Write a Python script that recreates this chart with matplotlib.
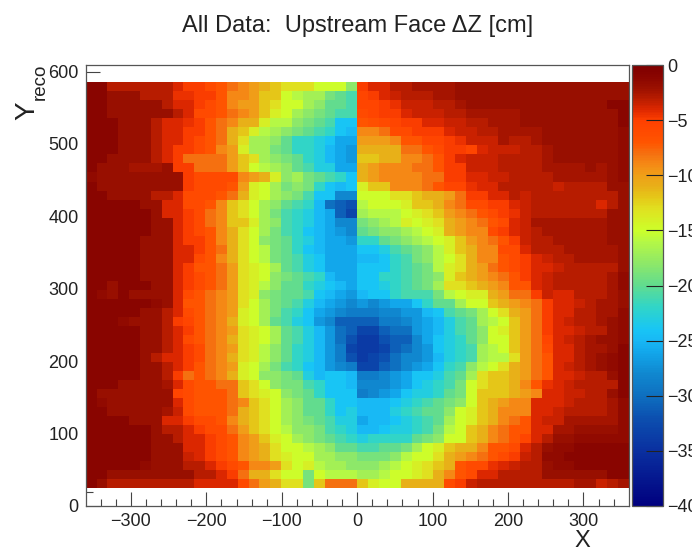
import numpy as np
import matplotlib
matplotlib.use("Agg")
import matplotlib.pyplot as plt
from matplotlib.colors import LinearSegmentedColormap, Normalize

# depth below zero (cm), top row first
# x < 0 half of the detector
depth_left = [
    [1,1,3,3,3,3,3,3,4,5,5,6,7,8,9,10,11,12,13,13,13,15,15,15,18],
    [1,1,2,2,2,3,3,3,4.5,4.5,5,5,7,9,9,10,12,12,15,16,17,17,19,20,21],
    [1,1,2,2,2,2,2,3,4,4,5,6,7,9,10,10,12,13,15,15,17,18,20,20,21],
    [1,1,2,2,2,2,2,2,3,4,6,6,7,8,9,10,12,14,15,17,18,19,20,21,21],
    [1,1,1,2,2,2,3,4,4,4.5,5,7,8,9,11,11,14,16,16,18,19,20,21,24,24],
    [1,1,1,2,2,2,3,4,4,5,5,7,8,11,12,14,16,17,18,19,20,21,22,24,25],
    [1,1,1,2,2,2,3,4,4,5,6,7,8,11,13,17,17,18,20,22,22,23,24,26,26],
    [1,1,1,2,2,2,3,4,5,5,6,7,9,10,14,17,17,19,20,22,22,23,25,26,27],
    [1,1,2,2,2,2,3,4,5,8,8,8,8,10,12,13,17,18,19,20,22,23,25,26,27],
    [1,2,2,2,2.5,2.5,2.5,2,5,5,8,8,8,10,12,15,16,17,18,20,21,23,23,26,26],
    [1.5,2,2,2,2,2,2,2,2,5,6,6,6,6,9,10,11,14,18,17,19,20,21,22,24],
    [1,2,2,2,2,2,2,2,2,5,6,6,6,7,10,14,15,17,19,18,19,22,24,25,24],
    [1,1,2,2,2,2,3,3,4,6,6,6,7,8,11,14,15,17,18,19,21,24,24,28,28],
    [1,1,1,1,1,2,2,4,4,6,6,7,9,12,13,15,17,18,20,21,22,25,30,31,32],
    [1,1,1,1,1,1,2,4,4,5,6,8,9,12,13,15,17,19,21,22,23,25,26,31,33],
    [1,1,1,1,1,1,2,2,4,5,6,8,9,12,12,14,17,18,21,22,23,25,26,28,28],
    [1,1,1,1,1,1,2,2,4,5,6,7,9,11,13,15,17,19,21,22,24,25,26,27,28],
    [1,1,1,1,1,2,2,2,4,5,5,7,9,11,13,15,18,19,20,22,23,25,26,26,27],
    [1,1,1,1,1,2,2,2,4,4,5,7,8,11,13,15,16,19,20,22,24,25,26,26,26],
    [1,1,1,1,1,2,2,2,4,4,6,7,9,11,13,15,16,19,20,21,23,24,26,26,26],
    [1,1,1,1,1,2,2,2,4,5,7,7,8,10,13,14,15,17,20,21,23,24,26,26,26],
    [1,1,1,1,1,2,2,2,4,5,6,7,8,10,13,14,15,18,19,20,21,22,25,26,26],
    [1,1,2,1,1,1,2,2,4,5,6,7,8,10,13,14,16,18,20,20,22,23,24,25,26],
    [1,1.5,2,1,2,2,2,2,4,6,7,8,9,10,13,14,18,19,20,20,21,24,25,26,27],
    [1,1,1,1,1,1,1.5,2,4,7,7,8,9,10,13,15,17,19,20,21,23,25,26,27,28],
    [1,1,1,1,1,2,2,3,4,6,7,8,9,10,14,15,17,19,21,22,24,26,27,28,29],
    [1,1,1,1.5,2,2,2,3,5,5.5,7,8,9,11,14,15,17,20,21,23,24,27,28,31,31],
    [1,1,1,1,1,2,2,3,4,5,7,8,9,10,13,14,15,17,20,21,23,25,27,30,31],
    [1,1,1,1,1,2,2,3,4,6,7,8,9,11,13,14,15,17,20,21,23,25,27,30,32],
    [1,1,1,1,1,2,2,3,4,5,6,8,9,10,13,14,16,18,20,22,23,25,27,29,33],
    [1,1,1,1,1,2,3,4,4,5,6,8,9,11,13,14,16,18,20,22,23,25,27,29,32],
    [1,1,1,1,1,2,2,3,4,5,7,8,9,10,14,15,17,19,21,22,24,25,27,28,29],
    [1,1,1,1,1,2,2,3,5,8,7,8,9,11,14,15,18,18,19,20,23,25,24,24,25],
    [1,1,1,2,2,2,2,2.5,4,6,7,7,8,8,12,13,15,18,19,19,21,22,24,24,25],
    [1,2,2,2,2,2,2,2,5.5,6,7,7,7,8,12,13,14,15,18,19,20,22,24,24,24],
    [1,1.5,2,2,2,2,2,2,4,6,7,7,7,8,9,12,13,15,17,18,20,20,22,24,24],
    [1,1,2,2,2,2,2,2.5,3.5,6,7,7,7,8,11,12,13,15,17,18,20,20,22,24,23],
    [1,1,1,1,2,2,2,4,4,5,6,6,7,9,11,12,13,15,17,18,19,20,21,23,23],
    [1,1,1,1,1,1,2,3,3,4,5,6,6,8,10,12,13,15,16,18,18,19,21,22,23],
    [1,1,1,1,1,1,2,2,3,4,4,5,6,7,9,10,12,14,15,17,18,19,20,21,22],
    [1,1,1,1,1,1,2,2,2,4,4,5,6,7,9,10,11,13,15,15,16,17,18,20,20],
    [1,1,1,1,1,1,2,2,2,3.5,4,5,6,7,9,10,11,13,14,15,15,17,17,18,18],
    [1,1,1,1,1,1.5,2,2,2,3,3,4,5,6,7,9,9,10,13,15,14,16,17,17,18],
    [1,1,2,2,2,2,2,2,2,2,3,3,4,5,8,11,11,13,15,15,19,15,16,16,16],
    [1,2,3,3,3,3,3,3,3,3,4,4,4,4,6,8,10,11,13,13,19,12,8,8,8],
]
# x > 0 half
depth_right = [
    [5,4,4,3,3,2.5,2.5,2.5,2.5,2,2,2,2,2,2,2,2,2,2,2,2,2,2,2,2],
    [5.5,5,4,3.5,3,3,3,2.5,2.5,2,2,2,2,2,2,2,2,2,2,2,2,2,2,2,2],
    [5.5,5.5,5,4.5,3.5,3.5,3.5,3,3,2.5,2,2,2,2,2,2,2,2,2,2,2,2,2,1,1],
    [6,5.5,5,5,4,3.5,3.5,3.5,3,3,2.5,2.5,2.5,2.5,2.5,2,2,2,2,2,2,2,2,2,1],
    [7,6.5,6,5.5,5,5,4,4,3.5,3.5,3,3,2.5,2.5,2.5,2,2,2,2,2,2,2,2,2,1],
    [9,9,8,6,6,5,5,5,4,3.5,3.5,3,3,2.5,2.5,2.5,2.5,2,2,2,2,2,2,2,1.5],
    [10,10,10,9,7,7,5.5,5.5,5,4.5,3.5,3.5,3.5,2.5,3,3,2.5,2,2,2,2,2,2,2,1.5],
    [11,11,11,11,8,8,7,6,5,5,5.5,4,3.5,3.5,3.5,3,3,2.5,2,2,2,2,2,2,1.5],
    [12,12,11,11,9,9,8,7,5,4,3.5,3.5,3.5,3,3,3,3,2.5,2,2,2,2,2,2,1.5],
    [11,10,9,9,9,8,8,7,5,5,3.5,3.5,3.5,3,3,3,3,2.5,2.5,2.5,2.5,2,2.5,2,1.5],
    [11,10,9,9,9,9,8,8,5,5,4,4,3.5,3.5,3,3,3,3,2.5,2.5,2.5,2.5,2.5,2,1.5],
    [14,12,12,9,9,9,8,7,5.5,5.5,4.5,4,4,3,3,3,3,3,3.5,3,3,3,3,2,2],
    [15,15,15,13,13,12,11,11,10,8,5,5,4,4,3,3.5,3,3,3,3,3,3,3,3,2],
    [16,15,15,15,14,12,12,11,9,8,6,6,5,5,4,3.5,3,3,3,3,3,3,4,3,2],
    [17,16,16,16,15,14,13,12,10,9,8,7,6,5,4.5,3.5,3,3,3,3,3,3,3,2,2],
    [19,18,17,16,14,15,14,13,11,10,9,8,7,6,4,3.5,2.5,2.5,2.5,2.5,2.5,2.5,2.5,2,2],
    [20,19,18,18,17,16,15,14,11,10,9,9,6,5,4,3.5,3,2.5,2.5,2.5,2.5,2.5,2.5,2,2],
    [22,22,20,19,18,17,16,15,14,12,10,9,8,7,5,3.5,3,3,2.5,2.5,2.5,2.5,2.5,2,2],
    [24,24,23,21,20,19,18,16,14,12,11,9,9,6,6,4,3,3,3,2.5,2.5,2.5,2.5,2.5,2],
    [25,25,24,22,21,19,18,16,15,13,11,9,9,7,6,5,4,3.5,3,3,2.5,2.5,2.5,2.5,2],
    [24,24,24,22,21,20,19,16,14,13,11,10,8,7,6,5,4,4,3.5,3,3,3,3,3,2],
    [24,24,22,22,21,20,19,18,14,12,11,10,9,8,7,5,4,3.5,3,3,3,3,3,2.5,1.5],
    [24,24,23,22,21,20,19,17,13,13,12,11,10,9,7,7,4,3.5,3,3,3,3,3,2.5,1.5],
    [25,24,24,22,21,21,21,19,16,15,14,14,11,10,8,8,5,3.5,4,4,3,3,3,2.5,2],
    [27,28,27,26,26,24,22,20,20,17,15,15,12,11,10,9,8,5,4,4,3.5,3,2.5,2.5,2],
    [29,29,28,28,27,27,25,24,21,20,19,17,15,13,11,10,8,5,4,4,3,3,2.5,2.5,1.5],
    [31,31,29,29,28,27,26,25,23,21,20,17,16,15,12,10,8,5,4,3.5,3,3,2.5,2,1.5],
    [33,33,31,30,30,27,26,25,23,21,20,18,15,14,12,10,8,5,4,4,3.5,3,3,2,1.5],
    [34,34,32,31,31,28,26,24,23,22,20,18,15,15,12,10,8,5.5,4,3.5,3,2.5,2,2,1.5],
    [34,34,33,31,30,28,27,24,23,22,21,17,16,15,12,10,8,6,4,4,3,2.5,2.5,2,1],
    [34,33,32,30,28,28,27,25,23,22,21,17,16,16,13,10,8,7,4,4,3,2.5,2,1.5,1],
    [33,33,31,30,28,27,26,24,22,21,18,16,15,13,11,10,8,7,4,3.5,3,2.5,2,1.5,1],
    [29,29,28,27,26,24,24,23,21,20,17,13,12,12,11,10,8,7,4,4,3.5,3,3,2,1],
    [28,28,28,27,26,24,23,22,21,19,15,13,12,12,11,9,7,4.5,4,3.5,3,3,3,3,1],
    [29,28,27,26,24,23,23,22,20,19,15,12,12,12,11,10,9,4,4,3.5,3.5,3,3,2,1],
    [25,25,25,24,23,22,21,20,19,18,15,12,11,10,9,9,4,4,4,3.5,3,3,3,2.5,1.5],
    [25,25,25,23,22,21,20,20,18,15,14,12,11,9,9,9,4,4,3.5,3,3,3,3,2.5,1.5],
    [26,25,25,24,23,22,21,20,17,15,14,12,11,9,8,7,4,3.5,3.5,2.5,2.5,2.5,2.5,2.5,1.5],
    [25,25,24,23,23,22,21,19,16,15,12,11,9,8,7,7,4,4,2.5,2.5,2,2,2,2,1.5],
    [23,22,22,22,22,20,19,18,15,15,12,11,9,8,7,5.5,4,3,2,2,1.5,1.5,1.5,1.5,1.5],
    [21,21,20,20,19,17,15,14,12,11,11,9,7,7,6,4,3,2,1.5,1.5,1,1,1,1,1],
    [19,19,19,18,16,15,15,13,11,10,9,8,7,6,5,3.5,3,1.5,1.5,1,1,1,1,1,1],
    [18,18,17,16,15,14,13,12,11,7,6,6,4.5,4,3.5,3,3,2,1.5,1.5,1,1,1,1,1],
    [17,17,16,15,15,14,13,11,9,7,6,4,4,3,3,3,3,2,2,2,2,2,2,1,1],
    [12,14,15,15,11,11,11,11,6,5,3.5,3,3,3,3,3,3,3,3,3,2.5,2.5,3.5,3,2.5],
]
x_ticks = [-300, -200, -100, 0, 100, 200, 300]
y_ticks = [0, 100, 200, 300, 400, 500, 600]
z_ticks = [0, -5, -10, -15, -20, -25, -30, -35, -40]

# palette stops, depth -> colour
stop_depth = [0, 1, 2, 3, 4, 5, 7, 8, 9, 10, 11, 12, 13, 15, 16, 18, 20, 22, 24, 25, 26, 28, 30, 32, 35, 40]
stop_color = ["#7f0000", "#8a0500", "#9a1000", "#b81c00", "#de2800", "#ff4000", "#ff5500", "#f57010",
              "#f58a15", "#efa018", "#e8b018", "#e5c818", "#e0e020", "#ccff2a", "#b5f845", "#8ee868",
              "#60dc90", "#30d5c8", "#18c5f5", "#18b8f5", "#12a8ec", "#1088d0", "#0e70c0", "#0c50b0",
              "#0a30a0", "#00007f"]

plt.rcParams["font.family"] = ["Liberation Sans", "DejaVu Sans"]

W, H = 692, 550
fig = plt.figure(figsize=(W/100, H/100), dpi=100)

def px_axes(x0, y0, x1, y1):
    return fig.add_axes([x0/W, 1-y1/H, (x1-x0)/W, (y1-y0)/H])

nodes = [(1-d/40, c) for d, c in zip(stop_depth, stop_color)][::-1]
cmap = LinearSegmentedColormap.from_list("root_rainbow", nodes, N=256)
norm = Normalize(vmin=-40, vmax=0)

Z = -np.hstack([np.array(depth_left), np.array(depth_right)])
xedges = np.linspace(-360, 360, Z.shape[1]+1)
yedges = np.linspace(585, 25, Z.shape[0]+1)

ax = px_axes(85.7, 65, 628.7, 506)
mesh = ax.pcolormesh(xedges, yedges, Z, cmap=cmap, norm=norm, linewidth=0, rasterized=True)
ax.set_xlim(-360, 360)
ax.set_ylim(0, 609)
ax.set_axisbelow(True)
ax.set_xticks(x_ticks)
ax.set_yticks(y_ticks)
ax.set_xticks(np.arange(-340, 360, 20), minor=True)
ax.set_yticks(np.arange(0, 609, 20), minor=True)
ax.tick_params(which="major", direction="in", length=10, width=0.8, color="#444444",
               labelsize=13, pad=5, labelcolor="#222222")
ax.tick_params(which="minor", direction="in", length=5, width=0.8, color="#444444")
for s in ax.spines.values():
    s.set_color("#555555")
    s.set_linewidth(0.9)

cax = px_axes(632, 65, 663, 506)
cb = fig.colorbar(mesh, cax=cax, ticks=z_ticks)
cb.outline.set_edgecolor("#555555")
cb.outline.set_linewidth(0.9)
cax.tick_params(direction="in", length=12, width=0.8, color="#222222",
                labelsize=13, pad=3, labelcolor="#222222")
cax.minorticks_off()

fig.text(358/W, 1-26/H, "All Data:  Upstream Face \u0394Z [cm]", ha="center", va="center",
         fontsize=17, color="#222222")
fig.text(582/W, 1-541/H, "X", ha="center", va="center", fontsize=17, color="#222222")
fig.text(27/W, 1-111/H, "Y", rotation=90, ha="center", va="center", fontsize=20, color="#222222")
fig.text(40/W, 1-82/H, "reco", rotation=90, ha="center", va="center", fontsize=13.5, color="#222222")

fig.savefig("out.png", dpi=100)
